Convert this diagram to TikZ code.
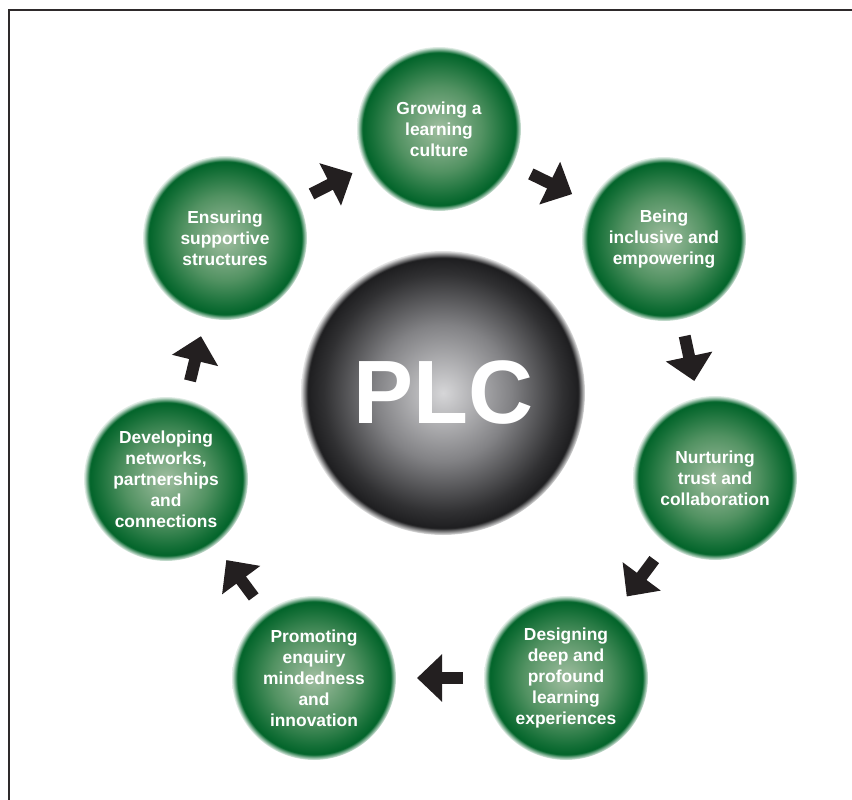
\documentclass[tikz,border=0pt]{standalone}
\usepackage{fontspec}
\setmainfont{Liberation Sans}
\usetikzlibrary{arrows.meta, calc}

\definecolor{ballcore}{RGB}{160,190,160}
\definecolor{ballmid}{RGB}{82,146,98}
\definecolor{ballouter}{RGB}{22,112,56}
\definecolor{balldark}{RGB}{2,100,42}
\definecolor{plccore}{RGB}{214,214,216}
\definecolor{plcmid}{RGB}{130,130,133}
\definecolor{plcouter}{RGB}{48,48,50}
\definecolor{plcdark}{RGB}{30,30,32}
\definecolor{inkblack}{RGB}{35,31,32}

\pgfdeclareradialshading{greenball}{\pgfpoint{0bp}{0bp}}{color(0bp)=(ballcore); color(13bp)=(ballmid); color(20.5bp)=(ballouter); color(23.3bp)=(balldark); color(25bp)=(balldark!10!white); color(50bp)=(white)}
\pgfdeclareradialshading{plcball}{\pgfpoint{0bp}{0bp}}{color(0bp)=(plccore); color(12bp)=(plcmid); color(21bp)=(plcouter); color(23.8bp)=(plcdark); color(25bp)=(plcdark!10!white); color(50bp)=(white)}

\tikzset{
  stage/.style={circle, minimum size=164pt, inner sep=0pt, shading=greenball,
    text=white, align=center, font=\bfseries\fontsize{17.4}{21}\selectfont},
  hub/.style={circle, minimum size=284pt, inner sep=0pt, shading=plcball,
    text=white, font=\bfseries\fontsize{90}{90}\selectfont},
  flow/.style={draw=inkblack, line width=12pt,
    -{Triangle[width=46pt, length=25pt, fill=inkblack]}}
}

\begin{document}
\begin{tikzpicture}[x=1pt, y=-1pt]
    \useasboundingbox (0,0) rectangle (852,800);

    % Frame
    \draw[line width=2.6pt, inkblack!95] (860,10) -- (9,10) -- (9,810);

    % Centre ball
    \node[hub] (plc) at (443,393) {PLC};

    % Stages round the centre
    \node[stage] (grow) at (439,129) {Growing a\\learning\\culture};
    \node[stage] (being) at (664,239) {Being\\inclusive and\\empowering};
    \node[stage] (nurt) at (715,478) {Nurturing\\trust and\\collaboration};
    \node[stage] (design) at (566,678) {Designing\\deep and\\profound\\learning\\experiences};
    \node[stage] (promo) at (314,678) {Promoting\\enquiry\\mindedness\\and\\innovation};
    \node[stage] (devel) at (166,479) {Developing\\networks,\\partnerships\\and\\connections};
    \node[stage] (ensure) at (225,238) {Ensuring\\supportive\\structures};

    % Arrows between stages
    \foreach \a/\b in {ensure/grow, grow/being, being/nurt, nurt/design,
                       design/promo, promo/devel, devel/ensure}
      \draw[flow] ($(\a)!0.5!(\b)!-23pt!(\b)$) -- ($(\a)!0.5!(\b)!23pt!(\b)$);
\end{tikzpicture}
\end{document}
